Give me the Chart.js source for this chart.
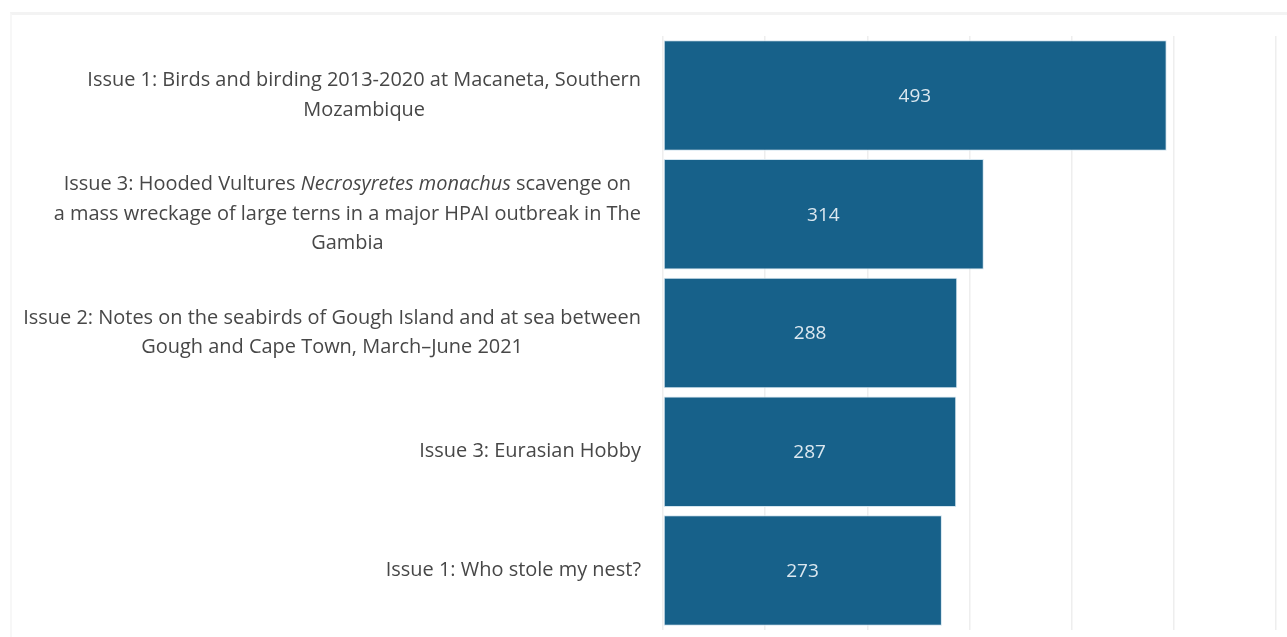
<!DOCTYPE html>
<html>
<head>
<meta charset="utf-8">
<script src="https://cdn.jsdelivr.net/npm/chart.js@4"></script>
<style>
    html, body { margin: 0; padding: 0; background: #ffffff; }
    #panel { position: absolute; left: 10px; top: 12px; right: 0; bottom: 0; border-top: 3px solid #f3f3f3; border-left: 2px solid #f7f7f7; }
    #wrap { position: absolute; left: 0; top: 0; width: 1287px; height: 637px; }
</style>
</head>
<body>
<div id="panel"></div>
<div id="wrap"><canvas id="graph"></canvas></div>
<script>
// category labels, already wrapped like the reference; _text_ is italic
const categories = [
    ['Issue 1: Birds and birding 2013-2020 at Macaneta, Southern', 'Mozambique'],
    ['Issue 3: Hooded Vultures _Necrosyretes monachus_ scavenge on', 'a mass wreckage of large terns in a major HPAI outbreak in The', 'Gambia'],
    ['Issue 2: Notes on the seabirds of Gough Island and at sea between', 'Gough and Cape Town, March\u2013June 2021'],
    ['Issue 3: Eurasian Hobby'],
    ['Issue 1: Who stole my nest?']
]
const views = [493, 314, 288, 287, 273]
const axisTicks = [0, 100, 200, 300, 400, 500, 600]

const FONT = '"Open Sans", "Noto Sans", sans-serif'

// split a line into plain / italic pieces
function segments(line)
{
    return line.split('_').map((t, i) => ({text: t, italic: i % 2 === 1})).filter(s => s.text.length)
}

const labelPlugin =
{
    id: 'sideLabels',
    afterDraw(chart)
    {
        const ctx = chart.ctx
        const yScale = chart.scales.y
        const xScale = chart.scales.x
        const lineHeight = 29.5
        const rightEdge = chart.chartArea.left - 22
        ctx.save()
        ctx.textBaseline = 'middle'

        const width = (line, size) =>
        {
            let w = 0
            for (const s of segments(line))
            {
                ctx.font = (s.italic ? 'italic ' : '') + size + 'px ' + FONT
                w += ctx.measureText(s.text).width
            }
            return w
        }

        // pick the size so the widest line spans about the same room as in the picture
        const widest = Math.max(...categories.flat().map(l => width(l, 20)))
        const size = Math.min(21, 20 * 618 / widest)

        categories.forEach((lines, i) =>
        {
            const cy = yScale.getPixelForValue(i)
            const widths = lines.map(l => width(l, size))
            const blockW = Math.max(...widths)
            const cx = rightEdge - blockW / 2
            ctx.fillStyle = '#474747'
            lines.forEach((line, j) =>
            {
                const y = cy + (j - (lines.length - 1) / 2) * lineHeight
                let x = cx - widths[j] / 2
                ctx.textAlign = 'left'
                for (const s of segments(line))
                {
                    ctx.font = (s.italic ? 'italic ' : '') + size + 'px ' + FONT
                    ctx.fillText(s.text, x, y)
                    x += ctx.measureText(s.text).width
                }
            })

            // value in the middle of the bar
            const x0 = xScale.getPixelForValue(0)
            const x1 = xScale.getPixelForValue(views[i])
            ctx.font = '19px ' + FONT
            ctx.textAlign = 'center'
            ctx.fillStyle = '#dce8f0'
            ctx.fillText(String(views[i]), (x0 + x1) / 2, cy + 1)
        })
        ctx.restore()
    }
}

new Chart(document.querySelector('#graph'),
{
    type: 'bar',
    data:
    {
        labels: categories.map(l => l.join(' ')),
        datasets:
        [
            {
                data: views,
                backgroundColor: '#17618a',
                borderColor: '#d3e5ef',
                borderWidth: 1,
                borderSkipped: false,
                barPercentage: 0.93,
                categoryPercentage: 1
            }
        ]
    },
    options:
    {
        indexAxis: 'y',
        responsive: true,
        maintainAspectRatio: false,
        animation: false,
        layout: {padding: {left: 663, right: 11, top: 36, bottom: 7}},
        plugins:
        {
            legend: {display: false},
            tooltip: {enabled: false}
        },
        scales:
        {
            x:
            {
                min: 0,
                max: 600,
                afterBuildTicks: (scale) => { scale.ticks = axisTicks.map(v => ({value: v})) },
                ticks: {display: false},
                grid: {color: '#eeeeee', lineWidth: 1.5, drawTicks: false},
                border: {display: false}
            },
            y:
            {
                display: false
            }
        }
    },
    plugins: [labelPlugin]
})
</script>
</body>
</html>
